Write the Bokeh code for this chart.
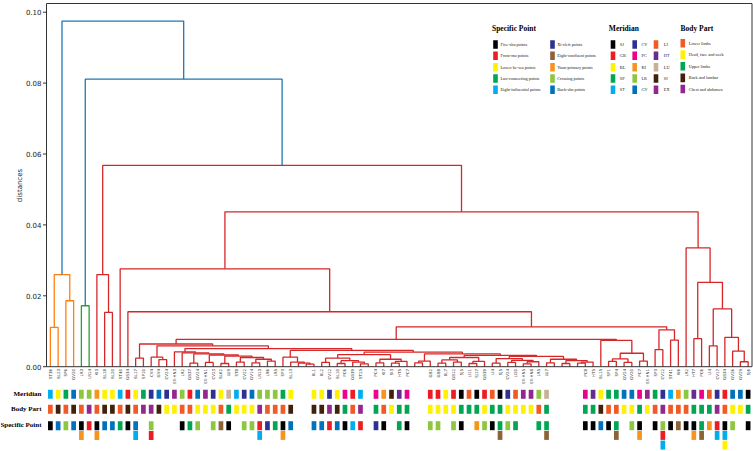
import math
from bokeh.plotting import figure
from bokeh.models import Range1d, BoxAnnotation
from bokeh.core.properties import value
from bokeh.embed import file_html
from bokeh.resources import INLINE

# ---------------- data ----------------
LEAF_LABELS = [
    "ST36", "BL23", "SP6", "GV20", "LR3", "LR14", "KI3", "BL18", "BL20", "ST40",
    "GB34", "BL17", "SP10", "CV4", "GV4", "CV24", "EX-HN3", "LR2", "GB37", "GV24",
    "EX-HN1", "CV23", "BL62", "LU9", "ST8", "CV22", "GV14", "LR13", "LR6", "LR5",
    "SP3", "BL13", "", "", "BL1", "BL2", "CV12", "BL10", "PC6", "GB39",
    "ST25", "", "PC4", "KI7", "SI3", "HT5", "PC7", "", "", "GB2",
    "GB8", "BL7", "GB12", "SJ5", "LI11", "SJ17", "GB39", "LI4", "SJ5", "CV24",
    "LI20", "EX-HN5", "EX-HN8", "LR5", "LU7", "", "", "", "", "PC8",
    "HT5", "BL15", "SP1", "SP4", "GV24", "GV20", "PC7", "EX-HN1", "SP3", "CV12",
    "ST41", "KI6", "LR2", "HT7", "PC6", "LI4", "CV17", "GB34", "GV26", "GV29",
    "SJ6",
]
MERIDIAN = [
    "ST", "BL", "SP", "GV", "LR", "LR", "KI", "BL", "BL", "ST",
    "GB", "BL", "SP", "CV", "GV", "CV", "EX", "LR", "GB", "GV",
    "EX", "CV", "BL", "LU", "ST", "CV", "GV", "LR", "LR", "LR",
    "SP", "BL", "", "", "BL", "BL", "CV", "BL", "PC", "GB",
    "ST", "", "PC", "KI", "SI", "HT", "PC", "", "", "GB",
    "GB", "BL", "GB", "SJ", "LI", "SJ", "GB", "LI", "SJ", "CV",
    "LI", "EX", "EX", "LR", "LU", "", "", "", "", "PC",
    "HT", "BL", "SP", "SP", "GV", "GV", "PC", "EX", "SP", "CV",
    "ST", "KI", "LR", "HT", "PC", "LI", "CV", "GB", "GV", "GV",
    "SJ",
]
BODY = [
    "LL", "BK", "LL", "BK", "LL", "CA", "LL", "BK", "BK", "LL",
    "BK", "LL", "CA", "CA", "BK", "HF", "HF", "LL", "LL", "HF",
    "HF", "HF", "LL", "UL", "HF", "HF", "HF", "CA", "LL", "LL",
    "LL", "BK", "", "", "BK", "BK", "CA", "BK", "UL", "LL",
    "CA", "", "UL", "LL", "HF", "UL", "UL", "", "", "HF",
    "HF", "HF", "HF", "UL", "UL", "UL", "HF", "UL", "UL", "HF",
    "HF", "HF", "HF", "LL", "UL", "", "", "", "", "UL",
    "UL", "BK", "LL", "LL", "HF", "HF", "UL", "HF", "LL", "CA",
    "LL", "LL", "LL", "UL", "UL", "UL", "CA", "LL", "HF", "HF",
    "UL",
]
SPECIFIC = [
    ["FS"], ["BS"], ["CP"], ["BS"], ["FS", "YP"], ["FM"], ["FS", "YP"], ["BS"], ["BS"], ["LC"],
    ["FS"], ["BS", "EI"], [], ["CP", "FM"], [], [], [], ["FS"], ["LC"], ["CP"],
    [], ["CP"], ["EC"], ["FS"], [], ["CP"], ["CP"], ["FM", "EI"], ["XC"], ["LC"],
    ["FS", "YP"], ["BS"], [], [], ["BS"], ["BS"], ["FM"], ["BS"], ["FS"], ["EI"],
    ["FM"], [], ["XC"], ["FS"], [], ["LC"], ["FS"], [], [], ["CP"],
    ["CP"], [], ["CP"], ["FS"], [], ["YP"], ["CP"], ["FS"], ["LC", "EC"], ["CP"],
    ["LC"], [], [], ["LC"], ["LC", "EC"], [], [], [], [], ["FS"],
    ["FS"], ["BS"], ["FS"], ["LC", "EC"], [], ["CP"], ["FS", "YP"], [], ["FS"], ["CP", "FM", "EI"],
    ["FS"], ["EC"], ["FS"], ["FS", "YP"], ["LC", "EC"], ["YP"], ["FM", "EI"], ["FS", "EI", "HS"], ["CP"], [],
    ["FS"],
]

# dendrogram merges: [left, right, height]; ints are leaf indices (left-to-right order)
P = [16, [17, [[18, 19, 0.0010], [[20, 21, 0.0012], [[22, 23, 0.0009],
     [[24, 25, 0.0013], [[26, 27, 0.0011], [28, 29, 0.0016], 0.0021], 0.0026], 0.0030], 0.0033], 0.0036],
     0.0039], 0.0042]
Q1 = [30, [31, [32, [33, 34, 0.0007], 0.0010], 0.0013], 0.0027]
Q2L = [[[35, 36, 0.0012], [[37, 38, 0.0009], [39, [40, 41, 0.0008], 0.0013], 0.0017], 0.0024],
       [[42, 43, 0.0011], [[44, 45, 0.0010], 46, 0.0015], 0.0021], 0.0034]
X = [[47, 48, 0.0011], 49, 0.0016]
Z1 = [[[50, 51, 0.0010], [52, 53, 0.0013], 0.0019], [[54, 55, 0.0009], 56, 0.0015], 0.0026]
Z2 = [[[57, 58, 0.0010], [[59, 60, 0.0012], [[61, 62, 0.0008], 63, 0.0014], 0.0018], 0.0023],
      [[64, 65, 0.0011], [[66, 67, 0.0009], [[68, 69, 0.0010], 70, 0.0013], 0.0017], 0.0021], 0.0029]
Q2 = [Q2L, [X, [Z1, Z2, 0.0032], 0.0036], 0.0041]
Y = [[13, [14, 15, 0.0020], 0.0027], [P, [Q1, Q2, 0.0046], 0.0051], 0.0059]
A1 = [[11, 12, 0.0024], Y, 0.0064]
A2 = [71, [[[72, 73, 0.0015], [74, 75, 0.0012], 0.0022], [76, 77, 0.0016], 0.0038], 0.0074]
B = [[78, 79, 0.0048], [80, 81, 0.0075], 0.0104]
RIGHT = [82, [[83, 84, 0.0079],
              [[85, 86, 0.0059], [87, [88, [89, 90, 0.0014], 0.0044], 0.0083], 0.0163],
              0.0238], 0.0335]
RED = [[6, [7, 8, 0.0153], 0.0260],
       [[9, [10, [[A1, A2, 0.0077], B, 0.01125], 0.0155], 0.0276], RIGHT, 0.0437],
       0.0568]
TREE = [[[0, 1, 0.0111], [2, 3, 0.0186], 0.0260],
        [[4, 5, 0.0172], RED, 0.0811],
        0.0975]

MERIDIAN_CODES = ["SJ", "GB", "BL", "SP", "ST", "CV", "PC", "KI", "LR", "GV", "LI", "HT", "LU", "SI", "EX"]
MERIDIAN_COLORS = ["#000000", "#ed1c24", "#fff200", "#00a651", "#00aeef", "#2e3192", "#ec008c", "#f7941d",
                   "#8dc63f", "#0072bc", "#f15a24", "#662d91", "#c7b299", "#42210b", "#92278f"]
BODY_CODES = ["LL", "HF", "UL", "BK", "CA"]
BODY_NAMES = ["Lower limbs", "Head, face and neck", "Upper limbs", "Back and lumbar", "Chest and abdomen"]
BODY_COLORS = ["#f15a24", "#fff200", "#00a651", "#42210b", "#92278f"]
SPEC_CODES = ["FS", "FM", "HS", "LC", "EI", "XC", "EC", "YP", "CP", "BS"]
SPEC_NAMES = ["Five-shu points", "Front-mu points", "Lower he-sea points", "Luo-connecting points",
              "Eight-influential points", "Xi-cleft points", "Eight-confluent points", "Yuan-primary points",
              "Crossing points", "Back-shu points"]
SPEC_COLORS = ["#000000", "#ed1c24", "#fff200", "#00a651", "#00aeef", "#2e3192", "#8c6239", "#f7941d",
               "#8dc63f", "#0072bc"]
ROW_TITLES = ["Meridian", "Body Part", "Specific Point"]
Y_TICKS = [0.0, 0.02, 0.04, 0.06, 0.08, 0.10]
Y_LABEL = "distances"

N = len(LEAF_LABELS)
assert len(MERIDIAN) == N and len(BODY) == N and len(SPECIFIC) == N

# ---------------- dendrogram geometry ----------------
CLUSTER_COLORS = ["#ff7f0e", "#2ca02c", "#d62728", "#9467bd"]
ABOVE_COLOR = "#1f77b4"
THRESH = 0.7 * TREE[2]
xs, ys, cs = [], [], []
cidx = [0]
seen = []


def leaf_x(i):
    return 5 + 10 * i


def walk(node, color=None):
    if isinstance(node, int):
        seen.append(node)
        return leaf_x(node), 0.0
    left, right, h = node
    if color is None and h < THRESH:
        color = CLUSTER_COLORS[cidx[0] % len(CLUSTER_COLORS)]
        cidx[0] += 1
    lx, lh = walk(left, color)
    rx, rh = walk(right, color)
    xs.append([lx, lx, rx, rx])
    ys.append([lh, h, h, rh])
    cs.append(color if color else ABOVE_COLOR)
    return (lx + rx) / 2.0, h


walk(TREE)
assert seen == list(range(N))

# ---------------- figure / pixel mapping ----------------
FONT_SERIF = "Liberation Serif"
FONT_SANS = "DejaVu Sans"

W, H = 753, 451
FL = 46                          # pixel column of the y axis (x = 0)
XMAX = 10 * N
SX = 705.5 / XMAX                # px per data unit along x
Y0PX = 366.2                     # pixel row of distance 0
SY = 3545.0                      # px per distance unit


def dx(px):
    return (px - FL) / SX


def dy(py):
    return (Y0PX - py) / SY


p = figure(width=W, height=H, x_range=Range1d(dx(0), dx(W)), y_range=Range1d(dy(H), dy(0)),
           x_axis_type=None, y_axis_type=None,
           output_backend="svg", toolbar_location=None, min_border=0)
p.xgrid.visible = False
p.ygrid.visible = False
p.outline_line_color = None
p.background_fill_color = "white"
p.border_fill_color = "white"

Y_TOP = dy(3)
# spines of the dendrogram box
p.add_layout(BoxAnnotation(left=0, right=XMAX, bottom=0, top=Y_TOP, fill_alpha=0,
                           line_color="#333333", line_width=1, line_alpha=1))
# y ticks and tick labels
p.segment(x0=[dx(42.5)] * len(Y_TICKS), x1=[0] * len(Y_TICKS), y0=Y_TICKS, y1=Y_TICKS,
          line_color="#333333", line_width=1)
p.text(x=[dx(41)] * len(Y_TICKS), y=Y_TICKS, text=["%.2f" % t for t in Y_TICKS], text_align="right",
       text_baseline="middle", text_font=value(FONT_SANS), text_font_size="7px", text_color="#222222")
p.text(x=[dx(19)], y=[dy(185)], text=[Y_LABEL], angle=math.pi / 2, text_align="center",
       text_baseline="middle", text_font=value(FONT_SANS), text_font_size="7px", text_color="#222222")

p.multi_line(xs=xs, ys=ys, line_color=cs, line_width=1.3)

# ---------------- legend (inside the plot) ----------------
SQ_W = 4.6 / SX
SQ_H = 8.6 / SY


def legend_block(title, title_px, names, colors, cols, row_y):
    p.text(x=[dx(title_px[0])], y=[dy(title_px[1])], text=[title], text_font=value(FONT_SERIF),
           text_font_style="bold", text_font_size="7.5px", text_baseline="middle", text_align="left",
           text_color="black")
    per_col = len(row_y)
    for k, (nm, col) in enumerate(zip(names, colors)):
        c = k // per_col
        r = k % per_col
        sqx, txx = cols[c]
        p.rect(x=[dx(sqx)], y=[dy(row_y[r])], width=SQ_W, height=SQ_H, fill_color=col, line_color=None)
        p.text(x=[dx(txx)], y=[dy(row_y[r])], text=[nm], text_font=value(FONT_SERIF),
               text_font_size="4.3px", text_baseline="middle", text_align="left", text_color="#222222")


ROWS_A = [44.0, 55.3, 66.7, 78.0, 89.2]
ROWS_B = [42.7, 54.1, 65.7, 77.4, 88.5]
legend_block("Specific Point", (491.5, 27.5), SPEC_NAMES, SPEC_COLORS, [(495.0, 500.0), (552.0, 556.7)], ROWS_A)
legend_block("Meridian", (608.3, 27.5), MERIDIAN_CODES, MERIDIAN_COLORS,
             [(612.5, 619.3), (634.2, 641.0), (655.5, 663.3)], ROWS_A)
legend_block("Body Part", (680.0, 27.5), BODY_NAMES, BODY_COLORS, [(682.3, 688.3)], ROWS_B)

# ---------------- labels and colour bars ----------------
lx = [leaf_x(i) for i in range(N)]
p.text(x=lx, y=[dy(368.5)] * N, text=LEAF_LABELS, angle=math.pi / 2, text_align="right",
       text_baseline="middle", text_font=value(FONT_SANS), text_font_size="4px", text_color="#333333")

ROW_PX = [393.8, 408.8, 425.2]
STACK_PX = 9.7
BAR_W = 4.7 / SX
BAR_H = 9.0 / SY

mcol = dict(zip(MERIDIAN_CODES, MERIDIAN_COLORS))
bcol = dict(zip(BODY_CODES, BODY_COLORS))
scol = dict(zip(SPEC_CODES, SPEC_COLORS))

rx, ry, rc = [], [], []
for i in range(N):
    if MERIDIAN[i]:
        rx.append(lx[i]); ry.append(dy(ROW_PX[0])); rc.append(mcol[MERIDIAN[i]])
    if BODY[i]:
        rx.append(lx[i]); ry.append(dy(ROW_PX[1])); rc.append(bcol[BODY[i]])
    for k, s in enumerate(SPECIFIC[i]):
        rx.append(lx[i]); ry.append(dy(ROW_PX[2] + k * STACK_PX)); rc.append(scol[s])
p.rect(x=rx, y=ry, width=BAR_W, height=BAR_H, fill_color=rc, line_color=None)

p.text(x=[dx(41)] * 3, y=[dy(v - 0.6) for v in ROW_PX], text=ROW_TITLES, text_align="right",
       text_baseline="middle", text_font=value(FONT_SERIF), text_font_style="bold", text_font_size="7px",
       text_color="black")

open("out.html", "w").write(file_html(p, INLINE))
